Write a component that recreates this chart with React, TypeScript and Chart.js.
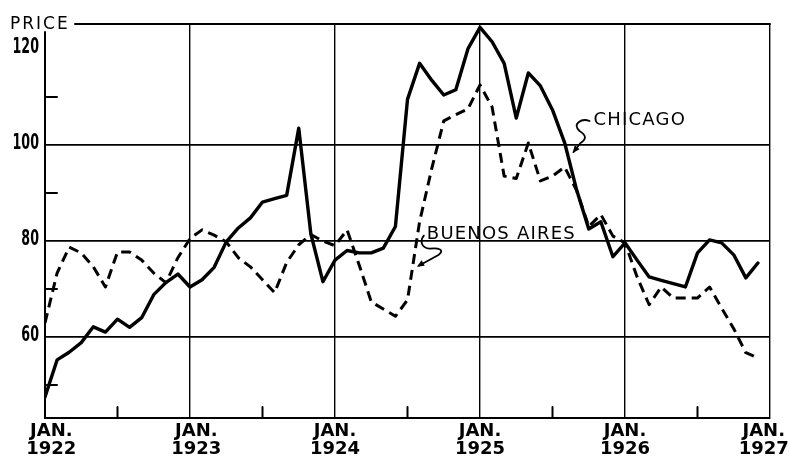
import React, { useEffect, useRef } from "react";
import { Chart, registerables } from "chart.js";

Chart.register(...registerables);

// Monthly prices, Jan 1922 (index 0) .. Dec 1926 (index 59)
const YEARS = ["1922", "1923", "1924", "1925", "1926", "1927"];
const Y_TICKS = [60, 80, 100, 120];
const Y_MINOR = [50, 70, 90, 110];
const X_MINOR = [6, 18, 30, 42, 54];
const Y_MIN = 43.1;
const Y_MAX = 125.2;

const CHICAGO = [
  47.5, 55.2, 56.8, 58.8, 62.1, 61.0, 63.7, 62.0, 64.0, 68.8, 71.3, 73.1,
  70.4, 71.9, 74.5, 79.8, 82.7, 84.8, 88.1, 88.8, 89.5, 103.5, 81.5, 71.5,
  76.0, 78.0, 77.5, 77.5, 78.5, 83.0, 109.5, 117.0, 113.5, 110.4, 111.5, 120.0,
  124.5, 121.5, 117.0, 105.6, 115.0, 112.3, 107.3, 100.5, 90.6, 82.5, 84.0, 76.7,
  79.6, 76.0, 72.5, 71.8, 71.1, 70.4, 77.5, 80.2, 79.6, 77.1, 72.3, 75.4,
];

const BUENOS_AIRES = [
  62.9, 73.3, 78.7, 77.5, 74.6, 70.4, 77.7, 77.7, 76.0, 73.3, 71.3, 76.5,
  80.5, 82.3, 81.2, 79.8, 76.5, 74.6, 71.9, 69.2, 75.5, 79.2, 81.3, 80.0,
  79.0, 82.3, 75.0, 67.3, 65.8, 64.3, 67.7, 84.0, 95.0, 105.0, 106.3, 107.5,
  112.5, 107.9, 93.5, 93.0, 100.4, 92.5, 93.5, 95.4, 90.5, 83.0, 85.5, 81.0,
  79.6, 72.5, 66.7, 70.4, 68.1, 68.1, 68.1, 70.4, 66.0, 61.7, 56.7, 55.6,
];

// annotation anchors (data coordinates: month index, price)
const CHICAGO_LABEL = { text: "CHICAGO", month: 45.4, price: 105.2 };
const BA_LABEL = { text: "BUENOS AIRES", month: 31.6, price: 81.3 };

// hand-lettered year labels sit slightly off-centre in the original
const X_LABEL_PAD = ["  ", "  ", "", "", "", ""];
const X_LABEL_TRAIL = ["", "", "", "", "", "  "];

function arrowHead(ctx: CanvasRenderingContext2D, x0: number, y0: number, x1: number, y1: number) {
  const a = Math.atan2(y1 - y0, x1 - x0);
  const L = 8;
  ctx.beginPath();
  ctx.moveTo(x1, y1);
  ctx.lineTo(x1 - L * Math.cos(a - 0.4), y1 - L * Math.sin(a - 0.4));
  ctx.lineTo(x1 - L * Math.cos(a + 0.4), y1 - L * Math.sin(a + 0.4));
  ctx.closePath();
  ctx.fill();
}

const framePlugin = {
  id: "frame",
  afterDraw(chart: any) {
    const ctx: CanvasRenderingContext2D = chart.ctx;
    const { left, right, top, bottom } = chart.chartArea;
    const xs = chart.scales.x;
    const ys = chart.scales.y;
    ctx.save();
    ctx.strokeStyle = "#000";
    ctx.fillStyle = "#000";
    ctx.lineCap = "round";

    // top border
    ctx.lineWidth = 2;
    ctx.beginPath();
    ctx.moveTo(75, top);
    ctx.lineTo(right, top);
    ctx.stroke();
    // left axis
    ctx.beginPath();
    ctx.moveTo(left, top + 8);
    ctx.lineTo(left, bottom);
    ctx.stroke();

    // minor ticks
    ctx.lineWidth = 2;
    Y_MINOR.forEach((v) => {
      const y = ys.getPixelForValue(v);
      ctx.beginPath();
      ctx.moveTo(left, y);
      ctx.lineTo(left + 12, y);
      ctx.stroke();
    });
    X_MINOR.forEach((m) => {
      const x = xs.getPixelForValue(m);
      ctx.beginPath();
      ctx.moveTo(x, bottom);
      ctx.lineTo(x, bottom - 11);
      ctx.stroke();
    });

    // y tick labels: tall, narrow hand lettering
    ctx.font = "bold 22px 'DejaVu Sans Condensed', 'DejaVu Sans', sans-serif";
    ctx.textAlign = "right";
    ctx.textBaseline = "middle";
    Y_TICKS.forEach((v) => {
      const y = ys.getPixelForValue(v) - 2;
      ctx.save();
      ctx.translate(39, y);
      ctx.scale(0.64, 1);
      ctx.fillText(String(v), 0, 0);
      ctx.restore();
    });

    // PRICE title
    ctx.font = "17px 'DejaVu Sans', sans-serif";
    (ctx as any).letterSpacing = "2px";
    ctx.textAlign = "left";
    ctx.textBaseline = "alphabetic";
    ctx.fillText("PRICE", 10, 29);

    // annotations
    ctx.font = "18px 'DejaVu Sans', sans-serif";
    (ctx as any).letterSpacing = "1.2px";
    ctx.textBaseline = "middle";
    ctx.lineWidth = 1.8;

    // Chicago
    let ax = xs.getPixelForValue(CHICAGO_LABEL.month);
    let ay = ys.getPixelForValue(CHICAGO_LABEL.price);
    ctx.fillText(CHICAGO_LABEL.text, ax, ay);
    ctx.beginPath();
    ctx.moveTo(ax - 4, ay + 1);
    ctx.bezierCurveTo(ax - 12, ay - 2, ax - 22, ay + 4, ax - 14, ay + 11);
    ctx.bezierCurveTo(ax - 6, ay + 16, ax - 8, ay + 20, ax - 13, ay + 23);
    ctx.lineTo(ax - 20, ay + 32);
    ctx.stroke();
    arrowHead(ctx, ax - 13, ay + 23, ax - 21, ay + 33);

    // Buenos Aires
    ax = xs.getPixelForValue(BA_LABEL.month);
    ay = ys.getPixelForValue(BA_LABEL.price);
    ctx.fillText(BA_LABEL.text, ax, ay);
    ctx.beginPath();
    ctx.moveTo(ax - 3, ay + 1);
    ctx.bezierCurveTo(ax - 7, ay + 6, ax - 6, ay + 13, ax + 3, ay + 14);
    ctx.bezierCurveTo(ax + 12, ay + 13, ax + 18, ay + 15, ax + 12, ay + 20);
    ctx.lineTo(ax - 8, ay + 31);
    ctx.stroke();
    arrowHead(ctx, ax + 2, ay + 25, ax - 10, ay + 32);

    ctx.restore();
  },
};

export default function App() {
  const ref = useRef<HTMLCanvasElement | null>(null);

  useEffect(() => {
    if (!ref.current) return;
    const chart = new Chart(ref.current, {
      type: "line",
      data: {
        datasets: [
          {
            label: "Chicago",
            data: CHICAGO.map((v, i) => ({ x: i, y: v })),
            borderColor: "#000",
            borderWidth: 3.4,
            pointRadius: 0,
            tension: 0,
            fill: false,
            borderJoinStyle: "round",
            borderCapStyle: "round",
          },
          {
            label: "Buenos Aires",
            data: BUENOS_AIRES.map((v, i) => ({ x: i, y: v })),
            borderColor: "#000",
            borderWidth: 3,
            borderDash: [10, 6],
            pointRadius: 0,
            tension: 0,
            fill: false,
            borderJoinStyle: "round",
          },
        ],
      },
      options: {
        responsive: false,
        animation: false,
        layout: { padding: { top: 24, right: 19, left: 0, bottom: 0 } },
        plugins: { legend: { display: false }, tooltip: { enabled: false } },
        scales: {
          x: {
            type: "linear",
            min: 0,
            max: 60,
            afterBuildTicks: (s: any) => {
              s.ticks = YEARS.map((_, i) => ({ value: i * 12 }));
            },
            afterFit: (s: any) => {
              s.height = 43;
              s.paddingLeft = 0;
              s.paddingRight = 0;
            },
            ticks: {
              autoSkip: false,
              maxRotation: 0,
              minRotation: 0,
              padding: 4,
              color: "#000",
              font: { family: "'DejaVu Sans', sans-serif", weight: "bold", size: 18, lineHeight: 1.0 },
              callback: (v: any) => {
                const i = Math.round(v / 12);
                return [X_LABEL_PAD[i] + "JAN." + X_LABEL_TRAIL[i], X_LABEL_PAD[i] + YEARS[i] + X_LABEL_TRAIL[i]];
              },
            },
            grid: {
              drawTicks: false,
              lineWidth: 1.4,
              color: (c: any) => (c.tick && c.tick.value === 0 ? "rgba(0,0,0,0)" : "#000"),
            },
            border: { display: true, color: "#000", width: 2 },
          },
          y: {
            min: Y_MIN,
            max: Y_MAX,
            afterBuildTicks: (s: any) => {
              s.ticks = Y_TICKS.map((v) => ({ value: v }));
            },
            afterFit: (s: any) => {
              s.width = 45;
              s.paddingTop = 0;
              s.paddingBottom = 0;
            },
            ticks: { display: false },
            grid: {
              drawTicks: false,
              lineWidth: 1.8,
              color: (c: any) => (c.tick && c.tick.value === 120 ? "rgba(0,0,0,0)" : "#000"),
            },
            border: { display: false },
          },
        },
      },
      plugins: [framePlugin],
    });
    return () => chart.destroy();
  }, []);

  return (
    <div style={{ position: "fixed", left: 0, top: 0, width: 789, height: 461, background: "#fff" }}>
      <canvas ref={ref} width={789} height={461} style={{ display: "block" }} />
    </div>
  );
}
